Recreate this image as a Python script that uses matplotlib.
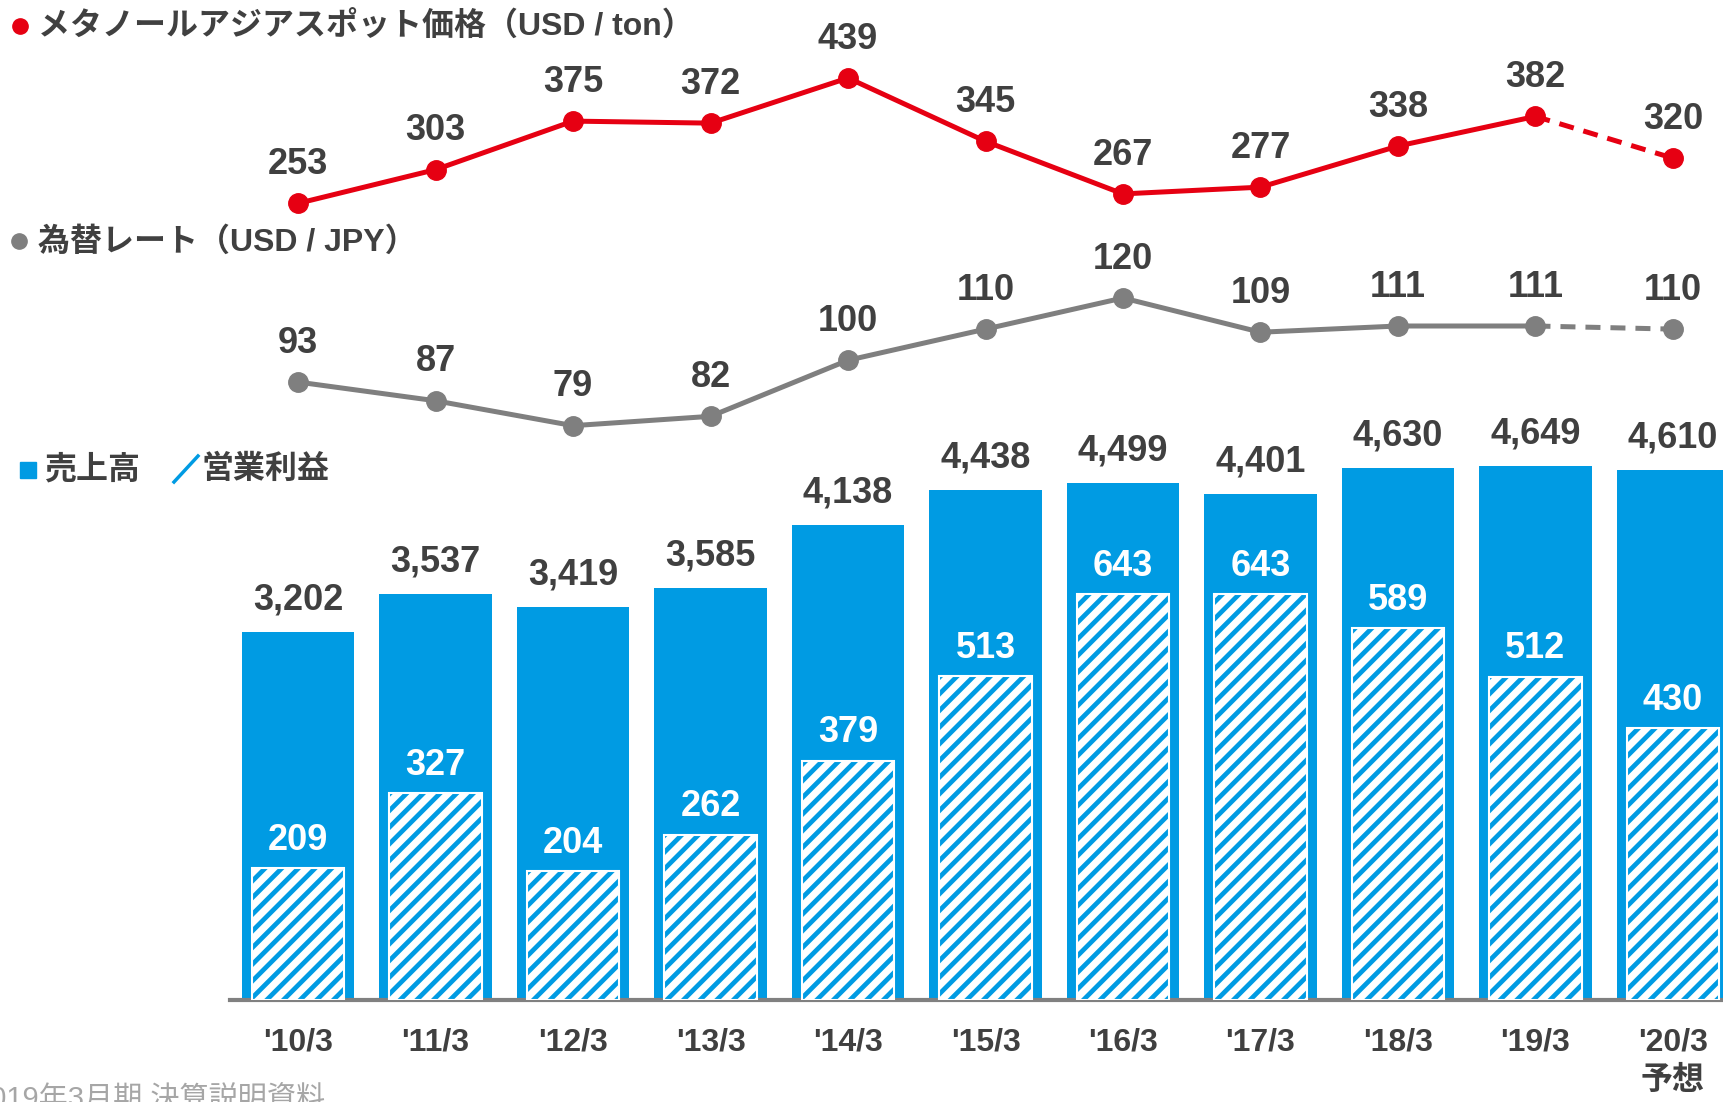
import matplotlib
matplotlib.use("Agg")
import matplotlib.pyplot as plt
from matplotlib.lines import Line2D
from matplotlib.patches import Rectangle

plt.rcParams["font.family"] = ["Liberation Sans", "Noto Sans CJK JP", "DejaVu Sans"]
plt.rcParams["hatch.linewidth"] = 3.4

# data
periods = ["'10/3", "'11/3", "'12/3", "'13/3", "'14/3", "'15/3",
           "'16/3", "'17/3", "'18/3", "'19/3", "'20/3\n予想"]
methanol = [253, 303, 375, 372, 439, 345, 267, 277, 338, 382, 320]
fx_rate = [93, 87, 79, 82, 100, 110, 120, 109, 111, 111, 110]
sales = [3202, 3537, 3419, 3585, 4138, 4438, 4499, 4401, 4630, 4649, 4610]
op_profit = [209, 327, 204, 262, 379, 513, 643, 643, 589, 512, 430]

RED = "#E60012"
GRAY = "#7F7F7F"
BLUE = "#009BE3"
DARK = "#404040"

W, H = 1723, 1102
fig = plt.figure(figsize=(W / 100, H / 100), dpi=100)


def px_box(top, bottom):
    # axes rectangle from pixel rows (top, bottom)
    return [230 / W, 1 - bottom / H, 1 - 230 / W, (bottom - top) / H]


x = list(range(len(periods)))
xlim = (-0.495, 10.364)

# bars (drawn first so the lines sit on top)
ax3 = fig.add_axes(px_box(420, 1000))
ax3.patch.set_visible(False)
ax3.bar(x, sales, width=0.82, color=BLUE, zorder=1)
for i, v in enumerate(sales):
    ax3.annotate(f"{v:,}", (i, v), xytext=(0, 23), textcoords="offset points",
                 ha="center", va="center", fontsize=26, fontweight="bold", color=DARK,
                 annotation_clip=False)
ax3.set_xlim(xlim)
ax3.set_ylim(0, 5048)
for s in ["top", "left", "right"]:
    ax3.spines[s].set_visible(False)
ax3.spines["bottom"].set_color("#808080")
ax3.spines["bottom"].set_linewidth(3)
ax3.spines["bottom"].set_zorder(5)
ax3.set_yticks([])
ax3.set_xticks(x)
ax3.set_xticklabels(periods, fontsize=23, fontweight="bold", color=DARK)
for lab in ax3.get_xticklabels():
    lab.set_linespacing(1.35)
ax3.tick_params(axis="x", length=0, pad=20)

ax4 = ax3.twinx()
ax4.patch.set_visible(False)
ax4.bar(x, op_profit, width=0.67, color="white", edgecolor=BLUE, hatch="//", lw=0, zorder=2)
ax4.bar(x, op_profit, width=0.67, fill=False, edgecolor="white", lw=1.5, zorder=3)
for i, v in enumerate(op_profit):
    ax4.annotate(f"{v}", (i, v), xytext=(0, 20), textcoords="offset points",
                 ha="center", va="center", fontsize=26, fontweight="bold", color="white")
ax4.set_ylim(0, 918.3)
ax4.axis("off")

# methanol line
ax1 = fig.add_axes(px_box(0, 240))
ax1.patch.set_visible(False)
ax1.plot(x[:-1], methanol[:-1], color=RED, lw=3.6, marker="o", ms=14, clip_on=False)
ax1.plot(x[-2:], methanol[-2:], color=RED, lw=3.6, ls=(0, (3, 2)), clip_on=False)
ax1.plot(x[-1], methanol[-1], color=RED, marker="o", ms=14, clip_on=False)
for i, v in enumerate(methanol):
    ax1.annotate(f"{v}", (i, v), xytext=(0, 28), textcoords="offset points",
                 ha="center", va="center", fontsize=26, fontweight="bold", color=DARK)
ax1.set_xlim(xlim)
ax1.set_ylim(198.6, 554.7)
ax1.axis("off")

# exchange rate line
ax2 = fig.add_axes(px_box(250, 440))
ax2.patch.set_visible(False)
ax2.plot(x[:-1], fx_rate[:-1], color=GRAY, lw=3.6, marker="o", ms=14, clip_on=False)
ax2.plot(x[-2:], fx_rate[-2:], color=GRAY, lw=3.6, ls=(0, (3, 2)), clip_on=False)
ax2.plot(x[-1], fx_rate[-1], color=GRAY, marker="o", ms=14, clip_on=False)
for i, v in enumerate(fx_rate):
    ax2.annotate(f"{v}", (i, v), xytext=(0, 28), textcoords="offset points",
                 ha="center", va="center", fontsize=26, fontweight="bold", color=DARK)
ax2.set_xlim(xlim)
ax2.set_ylim(74.4, 135.4)
ax2.axis("off")

# legend-like labels
fig.add_artist(Line2D([20 / W], [1 - 26 / H], marker="o", ms=11, color=RED,
                      transform=fig.transFigure))
fig.text(38 / W, 1 - 27 / H, "メタノールアジアスポット価格（USD / ton）",
         fontsize=23, fontweight="bold", color=DARK, va="center", ha="left")
fig.add_artist(Line2D([19 / W], [1 - 241 / H], marker="o", ms=11, color=GRAY,
                      transform=fig.transFigure))
fig.text(38 / W, 1 - 242 / H, "為替レート（USD / JPY）",
         fontsize=23, fontweight="bold", color=DARK, va="center", ha="left")
fig.add_artist(Rectangle((20 / W, 1 - 478 / H), 16 / W, 16 / H, color=BLUE,
                         transform=fig.transFigure))
fig.text(44 / W, 1 - 470 / H, "売上高", fontsize=23, fontweight="bold",
         color=DARK, va="center", ha="left")
fig.add_artist(Line2D([174 / W, 198 / W], [1 - 482 / H, 1 - 456 / H], color=BLUE,
                      lw=2.5, transform=fig.transFigure))
fig.text(202 / W, 1 - 470 / H, "営業利益", fontsize=23, fontweight="bold",
         color=DARK, va="center", ha="left")

fig.text(-26 / W, 1 - 1086 / H, "2019年3月期 決算説明資料", fontsize=21,
         color="#A6A6A6", va="top", ha="left")

fig.savefig("out.png", dpi=100)
